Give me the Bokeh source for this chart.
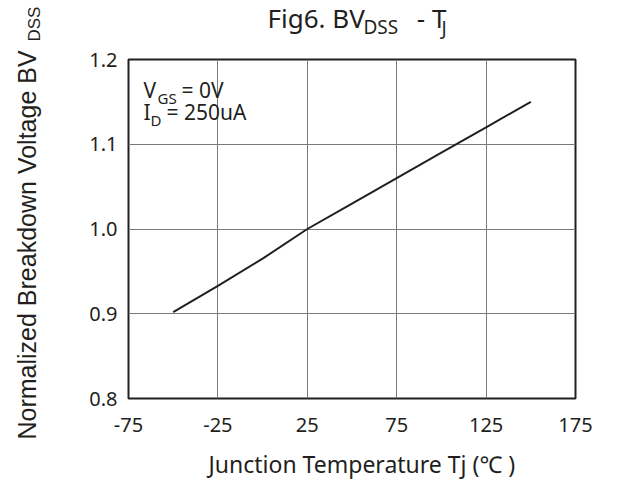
import math
from bokeh.plotting import figure
from bokeh.models import Range1d, FixedTicker, Label
from bokeh.embed import file_html
from bokeh.resources import INLINE

# ---- data ----
temps = [-50, -25, 0, 25, 50, 75, 100, 125, 150]
bvdss_norm = [0.902, 0.933, 0.965, 1.0, 1.030, 1.060, 1.090, 1.120, 1.150]
x_ticks = [-75, -25, 25, 75, 125, 175]
x_tick_labels = {-75: "-75", -25: "-25", 25: "25", 75: "75", 125: "125", 175: "175"}
y_ticks = [0.8, 0.9, 1.0, 1.1, 1.2]
y_tick_labels = {0.8: "0.8", 0.9: "0.9", 1.0: "1.0", 1.1: "1.1", 1.2: "1.2"}

INK = "#231f20"
SANS = "Noto Sans"
ARIAL = "Liberation Sans"
# empirical baseline shift of Label text (fraction of font size)
SHIFT = {SANS: 0.388, ARIAL: 0.35}

W, H = 624, 480
FL, FR, FT, FB = 128, 575, 59, 398
X0, X1, Y0, Y1 = -75, 175, 0.8, 1.2

p = figure(width=W, height=H, output_backend="svg", toolbar_location=None,
           x_range=Range1d(X0, X1), y_range=Range1d(Y0, Y1),
           min_border_left=FL, min_border_right=W - FR,
           min_border_top=FT, min_border_bottom=H - FB)
p.background_fill_color = "white"
p.border_fill_color = "white"
p.outline_line_color = INK
p.outline_line_width = 2
p.outline_line_alpha = 1.0

p.xaxis.ticker = FixedTicker(ticks=x_ticks)
p.yaxis.ticker = FixedTicker(ticks=y_ticks)
p.xaxis.major_label_overrides = x_tick_labels
p.yaxis.major_label_overrides = y_tick_labels
for ax in (p.xaxis[0], p.yaxis[0]):
    ax.axis_line_color = None
    ax.major_tick_line_color = None
    ax.minor_tick_line_color = None
    ax.major_tick_in = 0
    ax.major_tick_out = 0
    ax.major_label_text_font = SANS
    ax.major_label_text_font_size = "20px"
    ax.major_label_text_color = INK
p.xaxis.major_label_standoff = 19
p.yaxis.major_label_standoff = 11

p.xgrid.ticker = FixedTicker(ticks=x_ticks)
p.ygrid.ticker = FixedTicker(ticks=y_ticks)
p.grid.grid_line_color = "#7a7a7a"
p.grid.grid_line_width = 1

p.line(temps, bvdss_norm, line_color=INK, line_width=2)


def dx(px):
    return X0 + (px - FL) * (X1 - X0) / (FR - FL)


def dy(py):
    return Y0 + (FB - py) * (Y1 - Y0) / (FB - FT)


def lab(text, px, py, size, font=SANS, vertical=False, place="center"):
    s = SHIFT[font] * size
    if vertical:
        px, angle = px - s, math.pi / 2
    else:
        py, angle = py - s, 0.0
    p.add_layout(Label(x=dx(px), y=dy(py), text=text, text_font=font,
                       text_font_size=f"{size}px", text_color=INK,
                       text_align="left", text_baseline="alphabetic",
                       angle=angle), place)


# title; pieces are spread over side panels so the frame keeps its place
lab("Fig6. BV\u2003\u2003- T", 267, 28, 26, place="above")
lab("DSS", 363, 34, 19, place="right")
lab("J", 441, 35, 19, place="left")

# in-plot annotation
lab("V", 143, 98, 21)
lab("GS", 157, 103, 15)
lab("= 0V", 181, 98, 21)
lab("I", 143, 120, 21)
lab("D", 150, 125, 15)
lab("= 250uA", 166, 120, 21)

# x axis label
lab("Junction Temperature  Tj (\u2103 )", 208, 472, 23, place="below")

# y axis label (rotated)
lab("Normalized Breakdown Voltage  BV", 35, 439, 25, font=ARIAL,
    vertical=True, place="left")
lab("DSS", 40, 41, 17, font=ARIAL, vertical=True, place="left")

open("out.html", "w").write(file_html(p, INLINE))
